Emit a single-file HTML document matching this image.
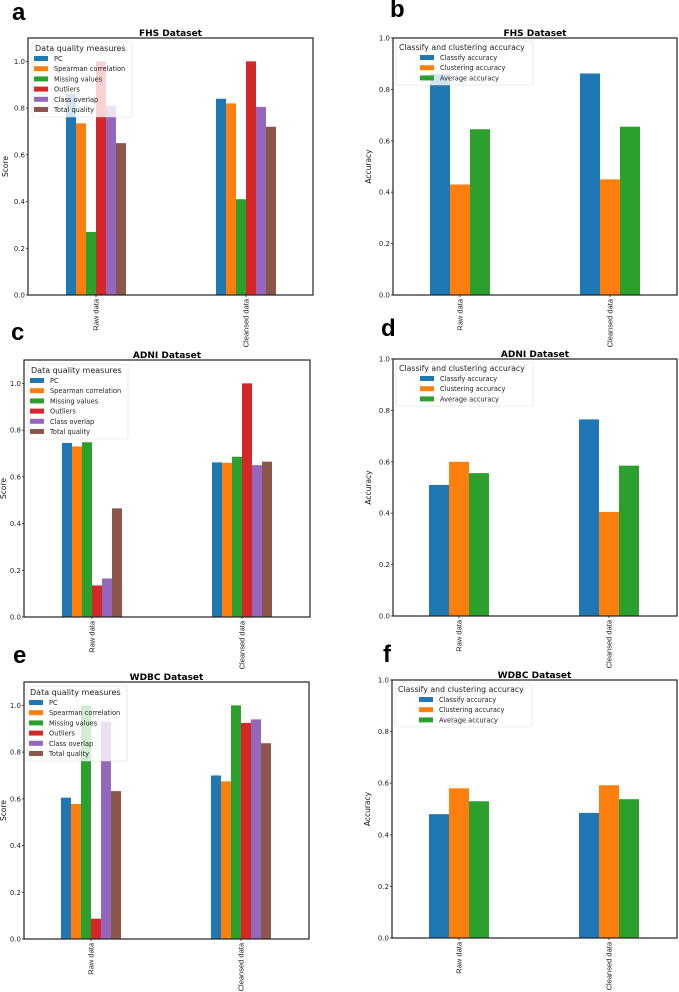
<!DOCTYPE html>
<html><head><meta charset="utf-8"><style>
body{margin:0;background:#fff;}
svg{display:block;font-family:"DejaVu Sans","Liberation Sans",sans-serif;}
</style></head><body>
<svg id="fig" width="679" height="992" viewBox="0 0 679 992" xmlns="http://www.w3.org/2000/svg"></svg>
<script>
const groups = ["Raw data", "Cleansed data"];
const qualityMeasures = ["PC", "Spearman correlation", "Missing values", "Outliers", "Class overlap", "Total quality"];
const accuracyMeasures = ["Classify accuracy", "Clustering accuracy", "Average accuracy"];
const qualityColors = ["#1f77b4", "#ff7f0e", "#2ca02c", "#d62728", "#9467bd", "#8c564b"];
const scoreTicks = ["0.0", "0.2", "0.4", "0.6", "0.8", "1.0"];
// panel a FHS quality (rows = group)
const fhsRaw = [0.86, 0.735, 0.27, 1.0, 0.81, 0.65];
const fhsClean = [0.84, 0.82, 0.41, 1.0, 0.805, 0.72];
// panel b FHS accuracy
const fhsAccRaw = [0.86, 0.43, 0.645];
const fhsAccClean = [0.862, 0.45, 0.655];
// panel c ADNI quality
const adniRaw = [0.745, 0.73, 0.748, 0.135, 0.165, 0.465];
const adniClean = [0.662, 0.66, 0.686, 1.0, 0.65, 0.665];
// panel d ADNI accuracy
const adniAccRaw = [0.51, 0.60, 0.556];
const adniAccClean = [0.765, 0.405, 0.585];
// panel e WDBC quality
const wdbcRaw = [0.605, 0.578, 1.0, 0.087, 0.93, 0.633];
const wdbcClean = [0.70, 0.675, 1.0, 0.925, 0.94, 0.838];
// panel f WDBC accuracy
const wdbcAccRaw = [0.48, 0.58, 0.53];
const wdbcAccClean = [0.485, 0.592, 0.538];

const NS = "http://www.w3.org/2000/svg";
const svg = document.getElementById("fig");
function mk(tag, attrs, parent, text){
  const e = document.createElementNS(NS, tag);
  for (const k in attrs) e.setAttribute(k, attrs[k]);
  if (text !== undefined) e.textContent = text;
  (parent || svg).appendChild(e);
  return e;
}

function panel(p){
  const g = mk("g", {});
  
  
  const lbl = mk("text", {x:p.lx, y:p.ly, "font-size":24, "font-weight":"bold", fill:"#000", "font-family":"Liberation Sans, sans-serif"}, g, p.letter);
  
  
  const H = p.bottom - p.top, W = p.right - p.left;
  const y = v => p.bottom - v / p.ymax * H;
  const gw = p.groupWidth, n = p.series.length, bw = gw / n;
  groups.forEach((gname, gi) => {
    const vals = p.data[gi];
    const gx0 = p.groupStart[gi];
    vals.forEach((v, si) => {
      const r = mk("rect", {x: gx0 + si*bw, y: y(v), width: bw, height: p.bottom - y(v), fill: qualityColors[si]}, g);
      
      
    });
    const cx = gx0 + gw/2;
    const t = mk("text", {x:0, y:0, "font-size":7.5, fill:"#222", "text-anchor":"end", "font-family":"Liberation Sans, sans-serif",
      transform:`translate(${cx+2.7},${p.bottom+4}) rotate(-90)`}, g, gname);
    
    
    mk("line", {x1:cx, x2:cx, y1:p.bottom, y2:p.bottom+2, stroke:"#222", "stroke-width":0.8}, g);
  });
  scoreTicks.forEach(tk => {
    const v = parseFloat(tk);
    const yy = y(v);
    mk("line", {x1:p.left-2, x2:p.left, y1:yy, y2:yy, stroke:"#222", "stroke-width":0.8}, g);
    const t = mk("text", {x:p.left-3, y:yy+2.5, "font-size":7, fill:"#222", "text-anchor":"end"}, g, tk);
    
    
  });
  const yl = mk("text", {x:0, y:0, "font-size":7.5, fill:"#111", "text-anchor":"middle",
    transform:`translate(${p.left-p.ylOff},${(p.top+p.bottom)/2}) rotate(-90)`}, g, p.ylabel);
  
  
  const fr = mk("rect", {x:p.left, y:p.top, width:W, height:H, fill:"none", stroke:"#222", "stroke-width":1.2}, g);
  
  
  const ti = mk("text", {x:(p.left+p.right)/2, y:p.top-2, "font-size":9, "font-weight":"bold", fill:"#000", "text-anchor":"middle"}, g, p.title);
  
  
  const L = p.legend;
  const lg = mk("g", {}, g);
  
  
  mk("rect", {x:L.x, y:L.y, width:L.w, height:L.h, fill:"#fff", "fill-opacity":0.8, stroke:"#ddd", "stroke-width":0.6, rx:1.5}, lg);
  mk("text", {x:L.tx, y:L.y+9, "font-size":L.tfs, fill:"#222"}, lg, L.title);
  p.series.forEach((s, i) => {
    const ey = L.y + 16.5 + i*10.2;
    const e = mk("g", {}, lg);
    
    
    mk("rect", {x:L.px, y:ey-2.5, width:14, height:5, fill:qualityColors[i]}, e);
    mk("text", {x:L.px+20, y:ey+2.5, "font-size":6.6, fill:"#222"}, e, s);
  });
}

const qLeg = (x,y) => ({x:x, y:y, w:100, h:75, tx:x+3, px:x+2, tfs:8, title:"Data quality measures"});
const aLeg = (x,y) => ({x:x, y:y, w:137, h:44, tx:x+3, px:x+24, tfs:7.8, title:"Classify and clustering accuracy"});

panel({id:"fhs-quality", letter:"a", lx:12, ly:20, left:28, right:313, top:38, bottom:295, ymax:1.1,
  groupStart:[66,216], groupWidth:60, series:qualityMeasures, data:[fhsRaw, fhsClean],
  title:"FHS Dataset", ylabel:"Score", ylOff:20, legend:qLeg(32,42)});
panel({id:"fhs-accuracy", letter:"b", lx:390, ly:17, left:393, right:677, top:38, bottom:295, ymax:1.0,
  groupStart:[430,580], groupWidth:60, series:accuracyMeasures, data:[fhsAccRaw, fhsAccClean],
  title:"FHS Dataset", ylabel:"Accuracy", ylOff:22, legend:aLeg(396,41)});
panel({id:"adni-quality", letter:"c", lx:11, ly:340, left:24, right:310, top:360, bottom:617, ymax:1.1,
  groupStart:[62,212], groupWidth:60, series:qualityMeasures, data:[adniRaw, adniClean],
  title:"ADNI Dataset", ylabel:"Score", ylOff:18, legend:qLeg(28,364)});
panel({id:"adni-accuracy", letter:"d", lx:381, ly:336, left:393, right:677, top:359, bottom:616, ymax:1.0,
  groupStart:[429,579], groupWidth:60, series:accuracyMeasures, data:[adniAccRaw, adniAccClean],
  title:"ADNI Dataset", ylabel:"Accuracy", ylOff:22, legend:aLeg(396,362)});
panel({id:"wdbc-quality", letter:"e", lx:13, ly:663, left:24, right:309, top:682, bottom:939, ymax:1.1,
  groupStart:[61,211], groupWidth:60, series:qualityMeasures, data:[wdbcRaw, wdbcClean],
  title:"WDBC Dataset", ylabel:"Score", ylOff:18, legend:qLeg(27,686)});
panel({id:"wdbc-accuracy", letter:"f", lx:383, ly:662, left:392, right:677, top:680, bottom:938, ymax:1.0,
  groupStart:[429,579], groupWidth:60, series:accuracyMeasures, data:[wdbcAccRaw, wdbcAccClean],
  title:"WDBC Dataset", ylabel:"Accuracy", ylOff:22, legend:aLeg(395,683)});
</script>
</body></html>
